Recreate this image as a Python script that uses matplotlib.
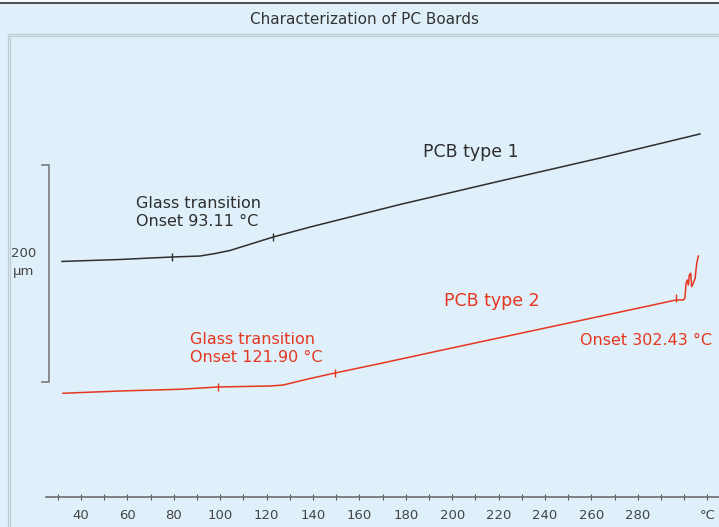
import matplotlib
matplotlib.use("Agg")
import matplotlib.pyplot as plt
from matplotlib.lines import Line2D

plt.rcParams['font.family'] = ['DejaVu Sans']

# Dilatometer traces: temperature (°C) vs. length change (µm, arbitrary offset)
pcb1_temp = [31.8, 56.8, 79.2, 91.3, 97.8, 104.2, 122.8, 138.7, 177.5, 220.6, 263.7, 306.8]
pcb1_dl = [217.1, 218.9, 221.2, 222.1, 224.4, 227.2, 239.6, 248.8, 269.6, 291.2, 312.4, 334.6]
pcb1_mark_temp = [79.1, 122.9]
pcb1_mark_dl = [221.1, 239.7]

pcb2_temp = [32.2, 56.8, 82.7, 99.1, 121.5, 127.1, 138.7, 149.5, 168.9, 199.1, 242.2,
             285.3, 296.5, 299.6, 300.3, 300.8, 301.3, 301.8, 302.2, 302.8, 303.2,
             303.9, 304.7, 305.4, 306.1]
pcb2_dl = [95.6, 97.7, 99.3, 101.4, 102.3, 103.2, 109.2, 114.3, 123.0, 137.0, 156.7,
           176.4, 181.6, 181.6, 183.1, 197.0, 200.0, 195.4, 204.6, 206.2, 193.8,
           197.0, 201.6, 215.4, 222.1]
pcb2_mark_temp = [99.1, 149.5, 296.5]
pcb2_mark_dl = [101.5, 114.3, 183.0]

tick_major = [40, 60, 80, 100, 120, 140, 160, 180, 200, 220, 240, 260, 280, 290, 300, 310]
tick_labels = ['40', '60', '80', '100', '120', '140', '160', '180', '200', '220', '240',
               '260', '280', '', '', '°C']
tick_minor = [30, 50, 70, 90, 110, 130, 150, 170, 190, 210, 230, 250, 270]

scale_bar = 200      # µm
scale_base = 106.0   # µm

BG = '#dff0fa'
BLACK = '#2e2e2e'
RED = '#e6361f'
FRAME = '#bfcbd4'

W, H = 719, 527
fig = plt.figure(figsize=(W / 100, H / 100), dpi=100)
fig.patch.set_facecolor(BG)


def fx(px):
    return px / W


def fy(py):
    return 1 - py / H


# outer frame decorations
fig.add_artist(Line2D([0, 1], [fy(2.5), fy(2.5)], transform=fig.transFigure,
                      color='#4a4a4a', lw=1.4))
fig.add_artist(Line2D([0, 1], [fy(0.5), fy(0.5)], transform=fig.transFigure,
                      color='#f4f8fb', lw=1.5))
for off in (0, 2):
    fig.add_artist(Line2D([fx(8 + off), 1], [fy(33.5 + off), fy(33.5 + off)],
                          transform=fig.transFigure, color=FRAME, lw=0.9))
    fig.add_artist(Line2D([fx(7.5 + off), fx(7.5 + off)], [fy(33.5 + off), 0],
                          transform=fig.transFigure, color=FRAME, lw=0.9))

fig.text(fx(365), fy(20), 'Characterization of PC Boards', ha='center', va='center',
         fontsize=11, color='#333333')

ax = fig.add_axes([fx(46), (H - 497) / H, (W - 46) / W, (497 - 36) / H])
ax.set_facecolor(BG)
ax.set_xlim(24.9, 315.0)
ax.set_ylim(0, (497 - 36) / 1.085)

for s in ('top', 'right', 'left'):
    ax.spines[s].set_visible(False)
ax.spines['bottom'].set_color('#6e6e6e')
ax.spines['bottom'].set_linewidth(1.2)
ax.set_yticks([])

ax.set_xticks(tick_major)
ax.set_xticklabels(tick_labels)
ax.set_xticks(tick_minor, minor=True)
ax.tick_params(axis='x', which='both', direction='inout', length=5, width=0.8,
               color='#555555', labelsize=9.5, labelcolor='#444444', pad=6)

# traces
ax.plot(pcb1_temp, pcb1_dl, color=BLACK, lw=1.1)
ax.plot(pcb2_temp, pcb2_dl, color=RED, lw=1.1)

# evaluation limit markers
ax.plot(pcb1_mark_temp, pcb1_mark_dl, linestyle='none', marker='|',
        markersize=6, color=BLACK, mew=1.0)
ax.plot(pcb2_mark_temp, pcb2_mark_dl, linestyle='none', marker='|',
        markersize=6, color=RED, mew=1.0)

# scale bar
bar_x, bar_tip = 26.2, 23.2
ax.plot([bar_tip, bar_x, bar_x, bar_tip],
        [scale_base + scale_bar, scale_base + scale_bar, scale_base, scale_base],
        color='#7a7a7a', lw=1.2, clip_on=False)
ax.text(15.4, scale_base + scale_bar * 0.55, f'{scale_bar}\nµm', ha='center', va='center',
        fontsize=9.5, color='#444444', linespacing=1.5, clip_on=False)

# annotations
ax.text(208.1, 318.0, 'PCB type 1', ha='center', va='center', fontsize=12.5,
        color=BLACK)
ax.text(63.7, 261.8, 'Glass transition\nOnset 93.11 °C', ha='left', va='center',
        fontsize=11.5, color=BLACK, linespacing=1.25)
ax.text(216.9, 180.6, 'PCB type 2', ha='center', va='center', fontsize=12.5,
        color=RED)
ax.text(87.0, 137.3, 'Glass transition\nOnset 121.90 °C', ha='left', va='center',
        fontsize=11.5, color=RED, linespacing=1.25)
ax.text(255.1, 143.8, 'Onset 302.43 °C', ha='left', va='center', fontsize=11.5, color=RED)

fig.savefig('out.png', dpi=100, facecolor=BG)
